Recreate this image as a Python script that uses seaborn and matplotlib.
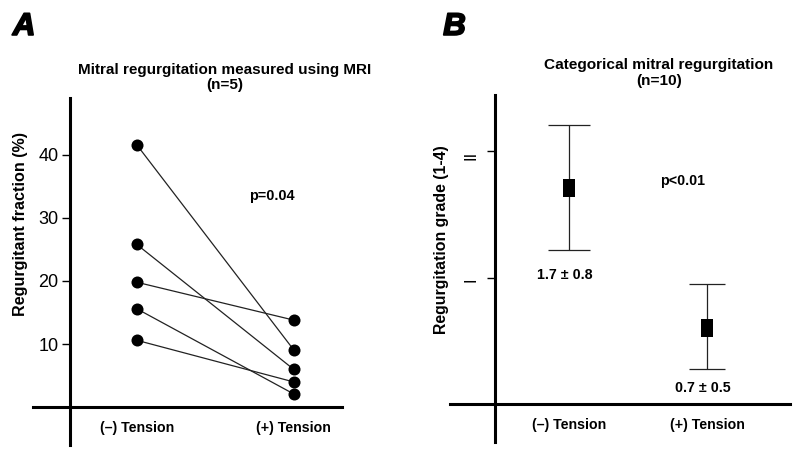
import matplotlib
matplotlib.use("Agg")
import matplotlib.pyplot as plt
import matplotlib.patheffects as pe
import pandas as pd
import seaborn as sns

# panel A: paired MRI regurgitant fraction (%)
conditions = ["(\u2013) Tension", "(+) Tension"]
rf_before = [41.6, 25.8, 19.8, 15.6, 10.6]
rf_after = [9.1, 6.0, 13.8, 2.1, 4.0]
a_ticks = [10, 20, 30, 40]

# panel B: categorical grade, mean with error bar ends
grade_mean = [1.71, 0.60]
grade_err_low = [0.49, 0.32]
grade_err_high = [0.50, 0.35]
grade_ticks = [1, 2]
grade_labels = ["I", "II"]
grade_notes = ["1.7 \u00b1 0.8", "0.7 \u00b1 0.5"]

sns.set_theme(style="white")
plt.rcParams["font.family"] = ["Liberation Sans", "DejaVu Sans"]
for key in ("text.color", "axes.labelcolor", "xtick.color", "ytick.color"):
    plt.rcParams[key] = "black"

fig = plt.figure(figsize=(8, 4.53), dpi=100)
ax_a = fig.add_axes([0.041, 0.0177, 0.386, 0.766])
ax_b = fig.add_axes([0.5625, 0.0243, 0.425, 0.766])

df_a = pd.DataFrame({
    "subject": list(range(5)) * 2,
    "pos": [0] * 5 + [1] * 5,
    "rf": rf_before + rf_after,
})
sns.lineplot(data=df_a, x="pos", y="rf", units="subject", estimator=None,
             color="#222222", linewidth=0.9, ax=ax_a, legend=False)
sns.scatterplot(data=df_a, x="pos", y="rf", color="black", s=75,
                edgecolor="black", linewidth=0, zorder=5, ax=ax_a, legend=False)

ax_a.set_xlim(-0.662, 1.306)
ax_a.set_ylim(-6.0, 49.0)


def style_axes(ax, yzero_x):
    for side in ("top", "right"):
        ax.spines[side].set_visible(False)
    ax.spines["left"].set_position(("data", yzero_x))
    ax.spines["bottom"].set_position(("data", 0))
    for side in ("left", "bottom"):
        ax.spines[side].set_color("black")
        ax.spines[side].set_linewidth(2.2)
    ax.tick_params(axis="y", direction="out", length=6, width=1,
                   color="black", labelsize=13, pad=2, left=True)
    ax.tick_params(axis="x", length=0, pad=10)
    ax.set_xticks([0, 1])
    ax.set_xticklabels(conditions, fontweight="bold", fontsize=10.2)
    ax.set_xlabel("")


style_axes(ax_a, -0.427)
ax_a.set_yticks(a_ticks)
ax_a.set_ylabel("Regurgitant fraction (%)", fontweight="bold", fontsize=11.6)
ax_a.yaxis.set_label_coords(-0.016, 0.637)
ax_a.text(0.86, 32.9, "p=0.04", fontweight="bold", fontsize=10.4, ha="center")
ax_a.text(0.56, 50.0, "Mitral regurgitation measured using MRI\n(n=5)",
          fontweight="bold", fontsize=11, ha="center", va="bottom",
          linespacing=1.05)

# panel B
for x, m, lo, hi, cap in zip([0, 1], grade_mean, grade_err_low,
                             grade_err_high, [15, 13]):
    ax_b.errorbar([x], [m], yerr=[[lo], [hi]], fmt="none", ecolor="#222222",
                  elinewidth=0.9, capsize=cap, capthick=0.9)
sns.scatterplot(x=[0, 1], y=grade_mean, color="black", s=170, linewidth=0,
                marker=[(-0.33, -0.5), (0.33, -0.5), (0.33, 0.5), (-0.33, 0.5)],
                zorder=5, ax=ax_b, legend=False)
ax_b.set_xlim(-0.862, 1.60)
ax_b.set_ylim(-0.296, 2.443)
style_axes(ax_b, -0.536)
ax_b.set_yticks(grade_ticks)
ax_b.set_yticklabels(grade_labels, rotation=90, fontsize=12, va="top")
ax_b.tick_params(axis="y", pad=6)
ax_b.set_ylabel("Regurgitation grade (1-4)", fontweight="bold", fontsize=11.4)
ax_b.yaxis.set_label_coords(-0.003, 0.582)
for x, m, lo, note, gap in zip([0, 1], grade_mean, grade_err_low, grade_notes,
                               [0.197, 0.15]):
    ax_b.text(x - 0.03, m - lo - gap, note, fontweight="bold", fontsize=10.3,
              ha="center", va="center")
ax_b.text(0.82, 1.73, "p<0.01", fontweight="bold", fontsize=10.3, ha="center")
ax_b.text(0.65, 2.50, "Categorical mitral regurgitation\n(n=10)",
          fontweight="bold", fontsize=11.1, ha="center", va="bottom",
          linespacing=1.12)

heavy = [pe.withStroke(linewidth=1.3, foreground="black")]
fig.text(0.016, 0.923, "A", fontsize=22.5, fontweight="heavy", style="italic",
         path_effects=heavy)
fig.text(0.554, 0.923, "B", fontsize=22.5, fontweight="heavy", style="italic",
         path_effects=heavy)

fig.savefig("out.png", dpi=100)
